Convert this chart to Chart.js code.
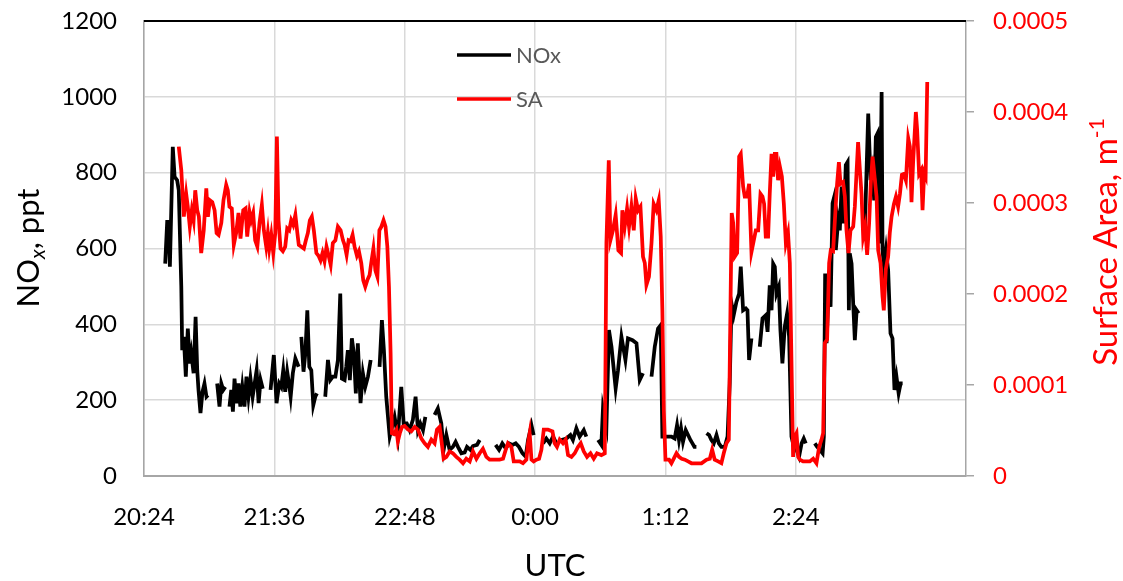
<!DOCTYPE html>
<html>
<head>
<meta charset="utf-8">
<script src="https://cdn.jsdelivr.net/npm/chart.js@4.4.1/dist/chart.umd.min.js"></script>
<style>
  body { margin: 0; background: #fff; }
</style>
</head>
<body>
<canvas id="noxChart" width="1123" height="581"></canvas>
<script>
// minutes after 20:24 UTC; null = no NOx data
const noxTime = [
  11.7,12.8,13.5,14.3,15.9,16.9,18.3,19.2,20.6,21.1,22.0,23.1,24.2,25.3,26.1,27.4,28.5,29.4,30.1,31.2,32.3,33.4,34.5,35.3, 38,
  40.4,41.7,42.7,43.8,44.9, 46,
  47.2,48.2,49.1,50.0,51.1,52.2,53.2,54.3,55.5,56.6,57.7,58.8,60.0,61.1,62.2,63.3,64.4,65.6, 68,
  69.9,71.7,73.2,74.7,75.8,76.9,78.0,79.1,80.2,81.0,82.2,83.6,85.4, 86.2,
  86.9,88.1,89.1,90.2,91.3,92.4,93.5,94.6,95.5, 98,
  100.1,101.6,102.9,104.3,105.7,107.1,108.4,109.3,110.8,111.7,112.6,113.7,114.8,115.9,117.0,118.1,119.6,120.9,122.2,123.7,125.2, 128,
  130.1,131.4,132.5,133.8,135.7,138.4,140.2,142.1,143.4,145.1,146.7,148.5,150.0,151.3,152.6,154.1,155.4, 158,
  160.5,162.3,164.2,165.5,167.0,168.8,170.6,172.1,173.4,175.3,177.1,178.4,180.3,181.7,183.9,185.4, 190,
  194.2,196.1,197.9,199.8,201.6,203.5,205.3,207.1,209.0,210.8,212.1,214.0,215.2, 218,
  220.4,222.2,224.1,225.9,227.8, 229,
  230.5,233.3,235.5,236.9,238.8,240.6,242.9,244.3, 247,
  250.8,252.6,253.5,255.4,256.8,258.2,260.5,261.8,263.7,265.9,267.3,269.8,272.0,273.8,275.6, 278,
  280.3,282.1,283.9,285.4,286.3,288.5,291.3,293.1,294.4,295.5,296.6,297.7,299.2,300.5,301.8,302.9,304.0,305.1, 308,
  310.7,312.1,313.4,314.7,316.2,317.5,318.9,320.8,322.3,323.5,324.5,325.7,327.2,328.7,329.6,330.9,332.4,333.3,334.2,335.5, 338,
  340.1,341.6,343.4,344.4,345.6,346.6,347.5,348.4,349.3,350.6,351.5,352.6,353.9,355.2,356.3,357.6,358.9,360.4,361.8,363.2,364.4,365.5, 368,
  370.5,371.8,373.3,374.8,375.5,376.2,377.0,378.4,379.2,380.3,381.0,382.1,383.4,384.3,385.3,386.5,387.6,388.6,389.3,389.8,390.8,391.7,392.6,393.6,394.7, 396,
  397.2,398.1,400.0,401.3,402.2,403.3,404.2,405.1,405.5,406.4,407.4,407.9,408.7,409.8,411.0,412.3,413.4,414.5,415.6,416.8,417.9,419.0
];
const noxPpt = [
  560,670,670,552,868,789,780,754,499,332,367,262,389,297,324,271,420,279,227,166,222,244,209,213, null,
  244,183,244,227,235, null,
  183,227,170,257,192,244,183,235,183,262,209,257,209,244,279,192,253,230, null,
  227,319,192,244,235,279,222,275,240,209,271,310,288, null,
  367,275,323,437,288,279,187,209,218, null,
  209,306,253,262,262,306,481,257,253,288,332,253,363,323,218,350,192,271,235,262,306, null,
  288,411,332,209,104,156,104,235,139,139,121,148,209,121,139,121,156, null,
  161,178,139,69,108,69,77,90,77,60,62,77,69,79,82,95, null,
  82,69,86,73,86,82,86,77,60,51,95,134,108, null,
  86,99,86,104,86, null,
  95,99,108,95,126,104,121,104, null,
  95,82,178,130,385,341,231,279,367,306,363,358,350,253,271, null,
  262,341,389,398,104,104,104,99,134,95,126,90,121,108,95,86,77,77, null,
  113,108,95,86,108,86,77,77,104,244,455,424,459,481,552,437,442,437,306,363, null,
  341,416,424,380,503,437,560,552,481,499,385,297,394,429,367,104,77,69,51,86,99,86, null,
  86,77,69,60,104,534,350,525,446,719,732,596,675,648,763,666,820,828,437,587,560,455,358,437,429, null,
  657,648,956,780,806,727,894,903,833,613,1013,596,552,596,543,376,363,227,262,218,244,244
];

// surface area, in units of 1e-4 m^-1
const saTime = [
  19.2,20.6,22.0,23.3,24.2,25.3,26.4,27.4,28.3,29.4,
  30.3,31.6,33.0,34.4,35.3,36.4,37.7,39.0,40.1,41.2,
  42.7,43.9,45.4,46.3,47.2,48.5,49.6,50.9,52.2,53.3,
  54.8,56.1,57.0,58.3,59.2,60.3,61.4,62.6,63.8,65.1,
  66.2,67.5,68.4,69.2,70.3,71.4,72.5,73.4,74.3,75.4,
  76.7,78.0,79.1,80.2,81.3,82.4,83.6,84.7,85.5,86.9,
  88.3,89.4,90.5,91.6,92.7,93.8,95.2,96.4,97.5,98.6,
  99.7,100.8,102.0,103.1,104.3,105.7,107.1,108.6,109.9,110.8,
  111.9,113.0,114.1,115.2,116.3,117.6,118.7,120.0,121.1,122.2,
  123.3,124.6,125.5,126.7,127.8,128.9,130.0,131.1,132.3,133.4,
  134.4,135.3,136.2,136.9,138.0,139.4,140.2,141.3,142.5,143.9,
  145.8,147.6,149.5,151.3,153.2,155.0,156.8,158.7,160.5,161.8,
  163.3,164.2,165.5,167.0,168.8,170.6,172.5,174.3,176.2,178.0,
  179.9,181.7,183.6,185.4,187.2,189.1,190.9,193.7,196.4,198.3,
  199.8,201.0,202.9,204.2,205.7,207.5,209.3,211.2,212.1,213.0,
  214.0,215.2,216.7,218.2,219.5,220.8,223.1,225.6,226.8,228.1,
  229.6,231.4,232.9,234.2,236.1,237.9,239.7,241.2,242.9,244.7,
  246.6,248.4,250.2,252.6,254.5,255.4,256.7,257.6,259.0,260.5,
  262.0,263.5,264.2,265.5,266.8,267.9,269.2,270.5,271.6,272.9,
  274.2,275.6,276.6,277.5,278.9,280.3,281.5,283.0,284.3,285.4,
  286.3,287.1,288.0,290.0,291.3,292.6,294.1,295.5,297.0,298.7,
  300.5,302.4,305.1,307.9,310.7,312.5,313.8,315.2,317.1,318.9,
  320.2,321.7,323.0,323.9,324.6,325.4,326.3,327.6,328.7,329.6,
  330.9,331.8,333.1,334.2,335.5,336.8,337.9,339.2,340.5,341.6,
  342.5,343.4,344.7,345.6,346.6,347.5,348.4,349.3,350.2,351.2,
  352.3,353.4,354.5,355.7,356.7,357.6,358.5,359.4,360.4,361.3,
  362.2,364.0,365.9,367.7,369.6,371.4,372.9,374.2,375.1,376.0,
  377.3,378.4,379.3,380.6,381.9,382.8,383.8,384.7,386.1,387.1,
  388.0,389.1,390.2,391.7,392.6,393.6,394.4,395.4,396.3,397.2,
  398.3,399.4,400.5,401.4,402.4,403.7,404.6,405.5,406.8,407.9,
  408.6,409.7,411.0,411.9,412.9,414.2,415.3,416.5,417.5,418.6,
  419.7,420.8,422.1,423.0,423.9,424.8,426.3,427.0,428.1,429.2,
  430.0,430.9,431.7,432.6
];
const saE4 = [
  3.62,3.36,2.85,3.10,2.96,2.74,2.92,2.81,3.14,2.92,
  2.85,2.45,2.70,3.16,2.85,3.03,3.01,2.92,2.67,2.65,
  2.78,3.03,3.20,3.14,2.96,2.94,2.54,2.67,2.89,2.61,
  2.92,2.94,2.63,2.90,2.81,2.89,2.59,2.52,2.78,2.98,
  2.70,2.52,2.67,2.50,2.65,2.45,2.67,3.73,2.81,2.50,
  2.47,2.52,2.72,2.70,2.81,2.76,2.87,2.67,2.54,2.52,
  2.50,2.59,2.67,2.81,2.85,2.70,2.45,2.42,2.37,2.45,
  2.36,2.52,2.42,2.32,2.56,2.59,2.74,2.70,2.59,2.54,
  2.43,2.59,2.58,2.65,2.52,2.42,2.47,2.34,2.15,2.08,
  2.15,2.21,2.34,2.50,2.26,2.19,2.70,2.74,2.81,2.74,
  2.52,2.08,1.35,0.47,0.46,0.51,0.38,0.47,0.54,0.55,
  0.51,0.49,0.54,0.51,0.41,0.36,0.32,0.40,0.36,0.51,
  0.54,0.40,0.19,0.21,0.27,0.25,0.21,0.18,0.14,0.19,
  0.16,0.27,0.19,0.25,0.30,0.21,0.18,0.18,0.18,0.19,
  0.29,0.36,0.32,0.16,0.16,0.16,0.14,0.18,0.36,0.47,
  0.18,0.16,0.18,0.19,0.29,0.51,0.51,0.49,0.36,0.32,
  0.40,0.36,0.40,0.23,0.21,0.25,0.32,0.36,0.27,0.21,
  0.25,0.19,0.25,0.23,0.25,2.56,3.47,2.59,2.70,2.87,
  2.48,2.45,2.92,2.74,2.94,2.74,2.96,2.70,3.05,2.92,
  2.96,2.41,2.34,2.10,2.19,2.56,2.99,2.92,3.03,2.63,
  1.82,0.72,0.18,0.18,0.14,0.19,0.25,0.21,0.19,0.18,
  0.16,0.14,0.14,0.14,0.18,0.19,0.29,0.18,0.16,0.14,
  0.25,0.36,0.40,1.82,2.89,2.78,2.41,2.45,3.51,3.54,
  3.18,3.07,3.07,3.21,2.46,2.59,2.70,2.70,3.10,3.07,
  2.99,2.63,2.63,3.10,3.54,3.29,3.54,3.54,3.25,3.40,
  3.29,2.99,2.56,2.67,2.34,1.27,0.21,0.43,0.47,0.21,
  0.18,0.16,0.16,0.16,0.19,0.14,0.32,0.40,0.47,1.46,
  1.50,2.34,2.48,2.47,2.92,3.21,3.45,3.21,3.23,3.07,
  2.70,2.45,2.70,2.74,2.96,3.36,3.67,3.36,3.10,2.63,
  2.74,2.43,2.78,3.21,3.51,3.25,3.07,2.48,2.34,1.97,
  1.82,2.27,2.41,2.67,2.85,2.99,3.07,2.96,3.10,3.31,
  3.32,3.25,3.71,3.62,3.01,3.45,4.00,3.81,3.32,3.36,
  2.92,3.33,3.29,4.33
];

const startClock = 20 * 60 + 24;   // 20:24
const xMaxMin = 454;
const xStep = 72;
const noxTicks = [0, 200, 400, 600, 800, 1000, 1200];
const saTicks = [0, 0.0001, 0.0002, 0.0003, 0.0004, 0.0005];

function clockLabel(m) {
  const t = startClock + m;
  const h = Math.floor(t / 60) % 24;
  const mm = Math.round(t % 60);
  return h + ':' + String(mm).padStart(2, '0');
}

function drawRotated(ctx, x, y, parts, color) {
  let total = 0;
  parts.forEach(p => { ctx.font = p.font; total += ctx.measureText(p.text).width; });
  ctx.save();
  ctx.translate(x, y);
  ctx.rotate(-Math.PI / 2);
  ctx.fillStyle = color;
  ctx.textAlign = 'left';
  ctx.textBaseline = 'alphabetic';
  let cx = -total / 2;
  parts.forEach(p => {
    ctx.font = p.font;
    ctx.fillText(p.text, cx, p.dy);
    cx += ctx.measureText(p.text).width;
  });
  ctx.restore();
}

// fixed axis box sizes so the plot area sits where it does in the original
function fixWidth(w) {
  return s => { s.width = w; s.paddingTop = 0; s.paddingBottom = 0; };
}

const decor = {
  id: 'decor',
  afterDraw(chart) {
    const { ctx, chartArea } = chart;
    ctx.save();
    ctx.strokeStyle = '#000';
    ctx.lineWidth = 2;
    ctx.beginPath();
    ctx.moveTo(chartArea.left, chartArea.top);
    ctx.lineTo(chartArea.right, chartArea.top);
    ctx.stroke();

    // legend
    chart.data.datasets.forEach((ds, i) => {
      const y = 55 + i * 44;
      ctx.strokeStyle = ds.borderColor;
      ctx.lineWidth = 3.5;
      ctx.beginPath();
      ctx.moveTo(457, y);
      ctx.lineTo(511, y);
      ctx.stroke();
      ctx.fillStyle = '#595959';
      ctx.font = '22px Lato';
      ctx.textBaseline = 'middle';
      ctx.textAlign = 'left';
      ctx.fillText(ds.label, 516, y + 1);
    });

    drawRotated(ctx, 39, 248, [
      { text: 'NO', font: '31px Lato', dy: 0 },
      { text: 'x', font: 'italic 21px Lato', dy: 6 },
      { text: ', ppt', font: '31px Lato', dy: 0 }
    ], '#000');
    drawRotated(ctx, 1117, 242, [
      { text: 'Surface Area, m', font: '33px Lato', dy: 0 },
      { text: '-1', font: '21px Lato', dy: -13 }
    ], '#ff0000');
    ctx.restore();
  }
};

Chart.defaults.font.family = 'Lato';
Chart.defaults.font.size = 24;
Chart.defaults.color = '#000';

new Chart(document.getElementById('noxChart'), {
  type: 'line',
  data: {
    datasets: [{
      label: 'NOx',
      data: noxTime.map((t, i) => ({ x: t, y: noxPpt[i] })),
      borderColor: '#000000',
      borderWidth: 3.75,
      pointRadius: 0,
      spanGaps: false,
      yAxisID: 'y',
      order: 2
    }, {
      label: 'SA',
      data: saTime.map((t, i) => ({ x: t, y: saE4[i] * 1e-4 })),
      borderColor: '#ff0000',
      borderWidth: 3.75,
      pointRadius: 0,
      yAxisID: 'y1',
      order: 1
    }]
  },
  options: {
    responsive: false,
    animation: false,
    layout: { padding: { top: 21, left: 0, right: 0, bottom: 0 } },
    plugins: { legend: { display: false }, tooltip: { enabled: false } },
    scales: {
      x: {
        type: 'linear',
        min: 0,
        max: xMaxMin,
        afterFit: s => { s.height = 105; },
        afterBuildTicks: s => { s.ticks = s.ticks.filter(t => t.value % xStep === 0); },
        ticks: { stepSize: xStep, padding: 27, callback: v => clockLabel(v) },
        grid: { color: '#d9d9d9', lineWidth: 1.5, drawTicks: false },
        border: { color: '#a6a6a6', width: 2 },
        title: { display: true, text: 'UTC', font: { size: 31, lineHeight: 1 }, padding: { top: 0, bottom: 0 } }
      },
      y: {
        position: 'left',
        min: 0,
        max: 1200,
        afterFit: fixWidth(144),
        afterBuildTicks: s => { s.ticks = noxTicks.map(v => ({ value: v })); },
        ticks: { padding: 27, callback: v => String(v) },
        grid: { color: '#d9d9d9', lineWidth: 1.5, drawTicks: false },
        border: { color: '#a6a6a6', width: 1.5 }
      },
      y1: {
        position: 'right',
        min: 0,
        max: 0.0005,
        afterFit: fixWidth(157),
        afterBuildTicks: s => { s.ticks = saTicks.map(v => ({ value: v })); },
        ticks: { color: '#ff0000', padding: 19, callback: v => v === 0 ? '0' : v.toFixed(4) },
        grid: { drawOnChartArea: false, color: '#a6a6a6', lineWidth: 1.5, tickLength: 8 },
        border: { color: '#a6a6a6', width: 1.5 }
      }
    }
  },
  plugins: [decor]
});
</script>
</body>
</html>
